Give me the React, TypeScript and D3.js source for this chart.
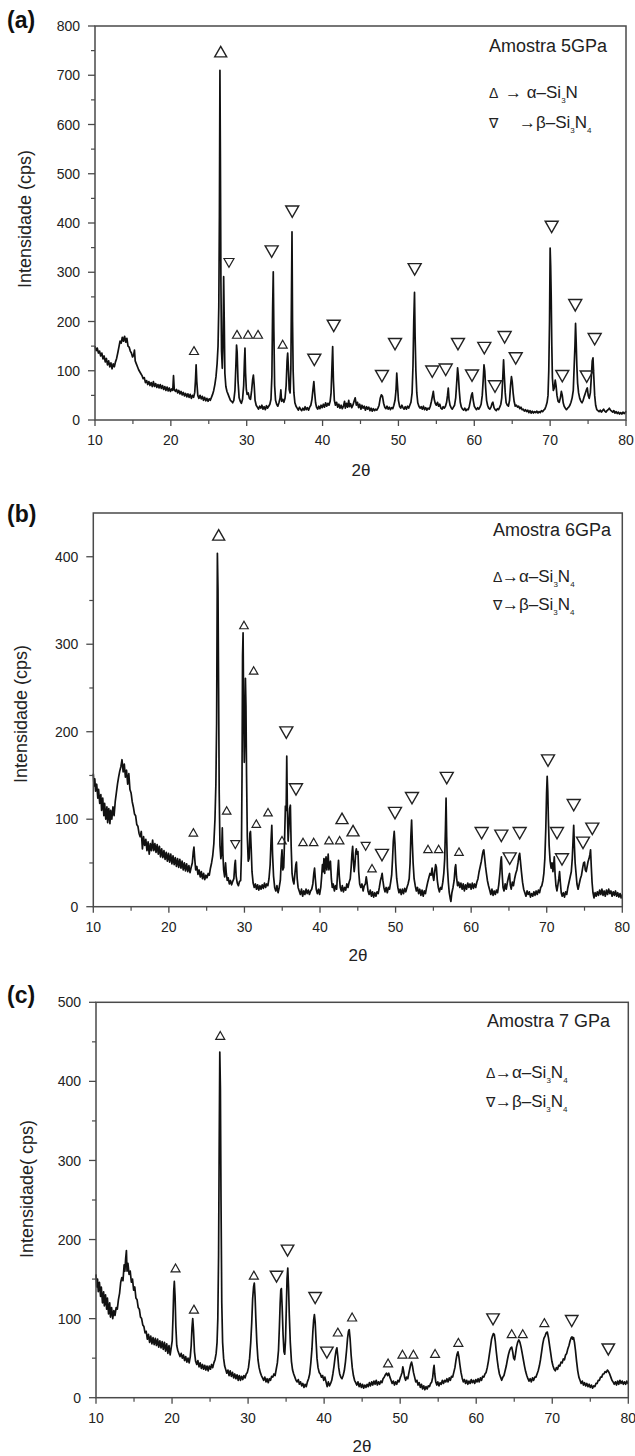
import React from "react";
import * as d3 from "d3";

type Pt = [number, number];
type Mk = [number, number, string];

const FONT = "'Liberation Sans', Arial, Helvetica, sans-serif";

// ---------- tick labels ----------
const xTicks = [10, 20, 30, 40, 50, 60, 70, 80];
const yTicksA = [0, 100, 200, 300, 400, 500, 600, 700, 800];
const yTicksB = [0, 100, 200, 300, 400];
const yTicksC = [0, 100, 200, 300, 400, 500];

// ---------- texts ----------
const panelLabels = ["(a)", "(b)", "(c)"];
const sampleTitles = ["Amostra 5GPa", "Amostra 6GPa", "Amostra 7 GPa"];
const yTitles = ["Intensidade (cps)", "Intensidade (cps)", "Intensidade( cps)"];
const xTitle = "2θ";
// [symbol, text, sub1, text2, sub2]
const legendA = [["Δ", "→ α–Si", "3", "N", ""], ["∇", "→β–Si", "3", "N", "4"]];
const legendB = [["Δ", "→α–Si", "3", "N", "4"], ["∇", "→β–Si", "3", "N", "4"]];
const legendC = [["Δ", "→α–Si", "3", "N", "4"], ["∇", "→β–Si", "3", "N", "4"]];

// ---------- spectra (2θ, intensity cps) ----------
const spectrumA: Pt[] = [[10,150],[10.15,141],[10.3,146],[10.45,136],[10.6,140],[10.75,130],[10.9,136],[11.05,124],[11.2,130],[11.35,118],[11.5,125],[11.65,112],[11.8,120],[11.95,108],[12.1,116],[12.25,104],[12.4,114],[12.55,108],[12.7,118],[12.85,125],[13.0,136],[13.15,148],[13.3,160],[13.45,156],[13.6,168],[13.75,160],[13.9,170],[14.05,158],[14.2,166],[14.35,150],[14.5,148],[14.65,140],[14.8,136],[14.95,128],[15.1,132],[15.2,142],[15.3,120],[15.45,114],[15.6,108],[15.75,102],[15.9,98],[16.05,94],[16.2,90],[16.35,84],[16.5,86],[16.65,76],[16.8,80],[16.95,72],[17.1,78],[17.25,70],[17.4,76],[17.55,68],[17.7,78],[17.85,68],[18.0,74],[18.15,66],[18.3,72],[18.45,65],[18.6,72],[18.75,64],[18.9,70],[19.05,62],[19.2,68],[19.35,60],[19.5,67],[19.65,59],[19.8,65],[19.95,58],[20.1,63],[20.25,60],[20.35,90],[20.45,62],[20.6,58],[20.75,62],[20.9,55],[21.05,60],[21.2,53],[21.35,58],[21.5,51],[21.65,56],[21.8,49],[21.95,54],[22.1,47],[22.25,53],[22.4,46],[22.55,52],[22.7,44],[22.85,50],[23.0,46],[23.15,56],[23.25,82],[23.33,112],[23.42,78],[23.55,50],[23.7,44],[23.85,50],[24.0,43],[24.15,48],[24.3,40],[24.45,46],[24.6,39],[24.75,44],[24.9,38],[25.05,43],[25.2,40],[25.35,46],[25.5,52],[25.65,60],[25.8,72],[25.95,88],[26.1,115],[26.22,150],[26.32,230],[26.4,413],[26.47,710],[26.53,535],[26.6,280],[26.68,140],[26.78,105],[26.88,160],[26.96,291],[27.04,200],[27.12,95],[27.25,68],[27.4,58],[27.55,52],[27.7,46],[27.85,40],[28.0,38],[28.15,35],[28.3,40],[28.45,60],[28.57,110],[28.66,152],[28.74,138],[28.85,80],[29.0,45],[29.15,38],[29.3,34],[29.45,42],[29.6,70],[29.7,120],[29.77,146],[29.85,95],[29.95,62],[30.05,52],[30.2,55],[30.35,44],[30.5,42],[30.65,60],[30.78,82],[30.88,91],[30.98,72],[31.1,40],[31.25,30],[31.4,26],[31.55,22],[31.7,28],[31.85,24],[32.0,30],[32.15,22],[32.3,27],[32.45,21],[32.6,29],[32.75,24],[32.9,28],[33.05,32],[33.2,42],[33.32,90],[33.42,230],[33.5,301],[33.58,180],[33.68,70],[33.8,40],[33.95,32],[34.1,28],[34.25,35],[34.4,45],[34.5,61],[34.6,38],[34.75,42],[34.9,36],[35.05,44],[35.2,70],[35.32,120],[35.4,136],[35.5,105],[35.6,62],[35.72,55],[35.82,105],[35.9,250],[35.97,382],[36.04,200],[36.12,100],[36.22,55],[36.35,35],[36.5,28],[36.65,24],[36.8,20],[36.95,26],[37.1,22],[37.25,19],[37.4,24],[37.55,20],[37.7,27],[37.85,21],[38.0,25],[38.15,20],[38.3,26],[38.45,30],[38.6,42],[38.72,60],[38.85,78],[38.96,55],[39.08,35],[39.2,26],[39.35,22],[39.5,28],[39.65,23],[39.8,30],[39.95,25],[40.1,32],[40.25,26],[40.4,35],[40.55,28],[40.7,34],[40.85,30],[41.0,38],[41.12,55],[41.22,100],[41.33,149],[41.43,80],[41.55,40],[41.7,30],[41.85,36],[42.0,26],[42.15,32],[42.3,24],[42.45,30],[42.6,23],[42.75,28],[42.9,38],[43.0,24],[43.15,34],[43.3,26],[43.45,40],[43.55,27],[43.7,33],[43.85,25],[44.0,30],[44.15,38],[44.3,45],[44.45,30],[44.6,36],[44.75,25],[44.9,32],[45.05,22],[45.2,30],[45.35,24],[45.5,28],[45.65,20],[45.8,27],[45.95,22],[46.1,26],[46.25,19],[46.4,24],[46.55,18],[46.7,23],[46.85,19],[47.0,22],[47.15,20],[47.3,24],[47.45,30],[47.6,44],[47.75,51],[47.9,48],[48.05,34],[48.2,26],[48.35,23],[48.5,28],[48.65,22],[48.8,26],[48.95,21],[49.1,25],[49.25,23],[49.4,30],[49.55,40],[49.68,60],[49.78,95],[49.88,70],[50.0,40],[50.15,28],[50.3,24],[50.45,30],[50.6,25],[50.75,22],[50.9,27],[51.05,22],[51.2,28],[51.35,24],[51.5,30],[51.65,36],[51.8,55],[51.92,110],[52.02,200],[52.12,259],[52.2,170],[52.3,100],[52.42,55],[52.55,35],[52.7,28],[52.85,24],[53.0,27],[53.15,22],[53.3,28],[53.45,21],[53.6,25],[53.75,20],[53.9,24],[54.05,22],[54.2,28],[54.35,38],[54.5,50],[54.6,58],[54.72,42],[54.85,34],[55.0,30],[55.15,36],[55.3,28],[55.45,32],[55.6,24],[55.75,22],[55.9,27],[56.05,24],[56.2,28],[56.35,36],[56.47,50],[56.57,65],[56.67,42],[56.8,30],[56.95,25],[57.1,22],[57.25,26],[57.4,30],[57.55,45],[57.68,75],[57.8,106],[57.9,90],[58.02,60],[58.15,36],[58.3,26],[58.45,22],[58.6,20],[58.75,24],[58.9,19],[59.05,22],[59.2,21],[59.35,28],[59.5,40],[59.62,50],[59.74,55],[59.86,40],[60.0,28],[60.15,24],[60.3,21],[60.45,25],[60.6,22],[60.75,26],[60.9,32],[61.05,50],[61.17,80],[61.28,112],[61.38,100],[61.5,65],[61.62,40],[61.75,30],[61.9,24],[62.05,22],[62.2,26],[62.35,34],[62.45,36],[62.6,25],[62.75,21],[62.9,19],[63.05,23],[63.2,21],[63.35,26],[63.5,32],[63.62,45],[63.74,80],[63.86,122],[63.96,90],[64.08,55],[64.2,35],[64.35,30],[64.5,28],[64.65,40],[64.78,70],[64.9,88],[65.0,78],[65.12,55],[65.25,38],[65.4,28],[65.55,30],[65.7,26],[65.85,28],[66.0,23],[66.15,26],[66.3,21],[66.45,22],[66.6,18],[66.75,21],[66.9,17],[67.05,20],[67.2,15],[67.35,19],[67.5,14],[67.65,18],[67.8,14],[67.95,17],[68.1,15],[68.25,18],[68.4,14],[68.55,17],[68.7,15],[68.85,19],[69.0,17],[69.15,20],[69.3,22],[69.45,28],[69.6,36],[69.72,50],[69.82,100],[69.92,200],[70.0,349],[70.07,312],[70.14,250],[70.22,150],[70.3,85],[70.42,60],[70.55,65],[70.67,81],[70.78,70],[70.9,50],[71.05,38],[71.2,36],[71.35,45],[71.48,58],[71.6,50],[71.72,35],[71.85,28],[72.0,24],[72.15,21],[72.3,24],[72.45,26],[72.6,30],[72.75,36],[72.9,45],[73.05,60],[73.17,110],[73.27,150],[73.35,196],[73.43,160],[73.52,110],[73.62,75],[73.75,55],[73.9,44],[74.05,38],[74.2,35],[74.35,40],[74.5,48],[74.65,55],[74.8,62],[74.9,65],[75.02,50],[75.15,44],[75.3,55],[75.42,85],[75.55,120],[75.65,126],[75.75,90],[75.87,50],[76.0,30],[76.15,21],[76.3,19],[76.45,17],[76.6,20],[76.75,16],[76.9,19],[77.05,22],[77.2,18],[77.35,16],[77.5,19],[77.65,21],[77.8,24],[77.95,20],[78.1,18],[78.25,16],[78.4,19],[78.55,14],[78.7,17],[78.85,13],[79.0,16],[79.15,12],[79.3,15],[79.45,12],[79.6,16],[79.75,13],[79.9,15],[80,18]];

const spectrumB: Pt[] = [[10,152],[10.1,138],[10.2,146],[10.3,132],[10.45,140],[10.6,124],[10.7,134],[10.85,118],[11.0,128],[11.1,110],[11.25,124],[11.4,104],[11.5,118],[11.65,100],[11.8,114],[11.9,96],[12.05,112],[12.2,95],[12.3,110],[12.45,100],[12.6,114],[12.75,104],[12.9,120],[13.05,130],[13.2,140],[13.35,148],[13.5,155],[13.65,160],[13.8,168],[13.95,154],[14.1,163],[14.25,148],[14.4,156],[14.55,140],[14.7,152],[14.85,134],[15.0,130],[15.15,120],[15.3,114],[15.45,106],[15.6,104],[15.75,94],[15.9,92],[16.05,84],[16.2,80],[16.35,86],[16.5,66],[16.65,80],[16.8,70],[16.95,77],[17.1,64],[17.25,74],[17.4,60],[17.55,72],[17.7,64],[17.85,76],[18.0,64],[18.15,72],[18.3,62],[18.45,71],[18.6,60],[18.75,69],[18.9,57],[19.05,66],[19.2,56],[19.35,64],[19.5,54],[19.65,62],[19.8,52],[19.95,61],[20.1,51],[20.25,60],[20.4,49],[20.55,58],[20.7,48],[20.85,56],[21.0,46],[21.15,55],[21.3,45],[21.45,54],[21.6,44],[21.75,52],[21.9,42],[22.05,50],[22.2,41],[22.35,49],[22.5,40],[22.65,47],[22.8,39],[22.95,45],[23.1,50],[23.22,62],[23.32,68],[23.42,55],[23.55,42],[23.7,46],[23.85,37],[24.0,42],[24.15,34],[24.3,40],[24.45,32],[24.6,38],[24.75,31],[24.9,36],[25.05,33],[25.2,38],[25.35,36],[25.5,44],[25.65,50],[25.8,58],[25.95,72],[26.1,100],[26.22,140],[26.32,210],[26.42,404],[26.5,363],[26.58,250],[26.66,130],[26.76,70],[26.88,55],[26.98,62],[27.07,90],[27.15,60],[27.25,42],[27.38,34],[27.5,50],[27.6,38],[27.72,30],[27.85,33],[28.0,26],[28.15,30],[28.3,25],[28.45,29],[28.6,32],[28.72,48],[28.8,53],[28.9,35],[29.05,27],[29.2,24],[29.35,29],[29.5,30],[29.6,60],[29.68,150],[29.75,287],[29.82,313],[29.9,220],[29.98,165],[30.06,200],[30.13,261],[30.2,230],[30.28,150],[30.38,80],[30.5,52],[30.62,55],[30.72,84],[30.8,86],[30.9,65],[31.0,40],[31.15,27],[31.3,22],[31.45,26],[31.6,20],[31.75,25],[31.9,19],[32.05,24],[32.2,20],[32.35,25],[32.5,21],[32.65,27],[32.8,22],[32.95,26],[33.1,24],[33.25,32],[33.4,48],[33.52,75],[33.62,93],[33.72,60],[33.85,35],[34.0,22],[34.15,18],[34.3,24],[34.45,16],[34.6,22],[34.75,30],[34.88,55],[34.97,65],[35.07,42],[35.2,45],[35.32,80],[35.42,115],[35.52,110],[35.6,172],[35.68,110],[35.78,75],[35.88,90],[35.98,112],[36.08,116],[36.18,70],[36.3,38],[36.42,30],[36.55,26],[36.68,38],[36.8,48],[36.88,51],[36.98,32],[37.1,22],[37.25,18],[37.4,14],[37.55,20],[37.7,12],[37.85,18],[38.0,14],[38.15,20],[38.3,15],[38.45,19],[38.6,14],[38.75,18],[38.9,20],[39.05,26],[39.18,38],[39.28,44],[39.38,32],[39.5,20],[39.65,15],[39.8,20],[39.95,14],[40.1,22],[40.22,35],[40.32,48],[40.42,40],[40.52,55],[40.62,38],[40.72,52],[40.8,57],[40.9,42],[41.0,50],[41.08,60],[41.18,42],[41.28,48],[41.38,52],[41.5,32],[41.62,22],[41.75,26],[41.9,18],[42.05,24],[42.2,20],[42.32,38],[42.45,53],[42.55,35],[42.68,22],[42.82,18],[42.95,24],[43.1,17],[43.25,22],[43.4,19],[43.55,26],[43.7,22],[43.85,28],[44.0,32],[44.12,45],[44.22,60],[44.32,69],[44.42,52],[44.52,40],[44.62,48],[44.72,62],[44.8,66],[44.9,60],[45.02,63],[45.12,40],[45.25,26],[45.4,22],[45.55,26],[45.7,18],[45.85,24],[46.0,26],[46.12,34],[46.22,28],[46.35,18],[46.5,14],[46.65,19],[46.8,12],[46.95,17],[47.1,11],[47.25,16],[47.4,12],[47.55,17],[47.7,15],[47.85,22],[48.0,30],[48.12,34],[48.22,38],[48.32,30],[48.45,22],[48.6,17],[48.75,22],[48.9,16],[49.05,22],[49.2,20],[49.35,28],[49.48,36],[49.6,55],[49.7,75],[49.82,86],[49.92,72],[50.02,50],[50.15,32],[50.3,22],[50.45,16],[50.6,20],[50.75,14],[50.9,20],[51.05,15],[51.2,21],[51.35,17],[51.5,22],[51.65,26],[51.8,32],[51.92,50],[52.02,80],[52.12,99],[52.22,72],[52.32,50],[52.45,32],[52.6,24],[52.75,18],[52.9,22],[53.05,15],[53.2,20],[53.35,13],[53.5,19],[53.65,12],[53.8,18],[53.95,15],[54.1,22],[54.25,28],[54.4,33],[54.55,38],[54.7,36],[54.83,44],[54.95,35],[55.05,30],[55.18,40],[55.3,48],[55.4,45],[55.52,30],[55.65,22],[55.8,17],[55.95,22],[56.1,20],[56.25,28],[56.38,38],[56.5,55],[56.6,90],[56.68,124],[56.76,80],[56.86,45],[56.98,28],[57.1,16],[57.22,10],[57.32,6],[57.45,16],[57.6,22],[57.75,30],[57.88,45],[57.96,48],[58.06,34],[58.2,24],[58.35,28],[58.5,22],[58.65,27],[58.8,20],[58.95,26],[59.1,18],[59.25,25],[59.4,20],[59.55,27],[59.7,22],[59.85,26],[60.0,20],[60.15,27],[60.3,21],[60.45,26],[60.6,22],[60.75,28],[60.9,32],[61.05,40],[61.2,46],[61.35,52],[61.5,60],[61.6,64],[61.68,65],[61.78,56],[61.9,46],[62.02,38],[62.15,30],[62.3,24],[62.45,19],[62.6,14],[62.75,20],[62.9,13],[63.05,18],[63.2,14],[63.35,19],[63.5,16],[63.65,25],[63.8,38],[63.92,52],[64.0,57],[64.1,38],[64.22,22],[64.35,18],[64.5,26],[64.65,20],[64.8,28],[64.95,34],[65.08,38],[65.18,25],[65.3,20],[65.45,28],[65.6,24],[65.75,32],[65.9,38],[66.05,42],[66.2,50],[66.32,58],[66.42,61],[66.52,52],[66.65,40],[66.8,28],[66.95,20],[67.1,16],[67.25,12],[67.4,18],[67.55,14],[67.7,17],[67.85,11],[68.0,15],[68.15,12],[68.3,17],[68.45,13],[68.6,18],[68.75,14],[68.9,19],[69.05,16],[69.2,22],[69.35,24],[69.5,30],[69.62,38],[69.75,55],[69.88,90],[69.98,130],[70.06,149],[70.14,132],[70.22,100],[70.32,70],[70.45,52],[70.58,44],[70.7,50],[70.82,40],[70.92,48],[71.0,57],[71.1,38],[71.22,24],[71.35,18],[71.48,25],[71.6,32],[71.7,40],[71.8,28],[71.92,16],[72.05,12],[72.2,16],[72.35,11],[72.5,17],[72.65,14],[72.8,22],[72.95,28],[73.1,34],[73.25,40],[73.38,55],[73.48,75],[73.57,93],[73.66,70],[73.76,50],[73.88,38],[74.0,26],[74.15,20],[74.3,26],[74.45,32],[74.6,36],[74.75,44],[74.88,50],[75.0,51],[75.1,42],[75.22,40],[75.35,46],[75.48,52],[75.6,55],[75.72,60],[75.8,65],[75.9,45],[76.0,28],[76.12,16],[76.25,10],[76.4,16],[76.55,12],[76.7,17],[76.85,13],[77.0,19],[77.15,14],[77.3,20],[77.45,13],[77.6,18],[77.75,12],[77.9,19],[78.05,14],[78.2,20],[78.35,15],[78.5,18],[78.65,12],[78.8,17],[78.95,13],[79.1,18],[79.25,12],[79.4,16],[79.55,11],[79.7,15],[79.85,10],[80,14]];

const spectrumC: Pt[] = [[10,156],[10.1,140],[10.2,150],[10.3,134],[10.45,146],[10.6,128],[10.7,140],[10.85,120],[11.0,134],[11.1,116],[11.25,130],[11.4,112],[11.5,126],[11.65,106],[11.8,120],[11.9,102],[12.05,114],[12.2,100],[12.35,110],[12.5,104],[12.65,114],[12.8,112],[12.95,124],[13.1,132],[13.25,146],[13.4,152],[13.55,148],[13.7,168],[13.8,160],[13.9,176],[14.0,186],[14.08,160],[14.2,170],[14.35,156],[14.5,160],[14.65,146],[14.8,150],[14.95,136],[15.1,140],[15.25,126],[15.4,124],[15.55,114],[15.7,112],[15.85,102],[16.0,100],[16.15,92],[16.3,90],[16.45,82],[16.6,84],[16.75,74],[16.9,80],[17.05,70],[17.2,78],[17.35,68],[17.5,76],[17.65,67],[17.8,75],[17.95,66],[18.1,74],[18.25,64],[18.4,72],[18.55,63],[18.7,71],[18.85,61],[19.0,70],[19.15,59],[19.3,68],[19.45,56],[19.6,66],[19.75,54],[19.9,64],[20.02,72],[20.12,100],[20.22,135],[20.3,147],[20.4,128],[20.5,90],[20.62,66],[20.75,60],[20.9,56],[21.05,52],[21.2,56],[21.35,50],[21.5,54],[21.65,47],[21.8,52],[21.95,45],[22.1,50],[22.25,44],[22.4,52],[22.52,66],[22.62,88],[22.72,100],[22.82,86],[22.95,58],[23.1,46],[23.25,42],[23.4,47],[23.55,39],[23.7,44],[23.85,37],[24.0,42],[24.15,36],[24.3,41],[24.45,35],[24.6,40],[24.75,34],[24.9,40],[25.05,36],[25.2,42],[25.35,38],[25.5,44],[25.65,48],[25.8,56],[25.92,70],[26.02,100],[26.12,180],[26.2,317],[26.28,437],[26.36,391],[26.44,250],[26.54,120],[26.65,70],[26.78,50],[26.92,40],[27.05,36],[27.2,31],[27.35,35],[27.5,28],[27.65,34],[27.8,27],[27.95,32],[28.1,25],[28.25,30],[28.4,24],[28.55,29],[28.7,22],[28.85,28],[29.0,22],[29.15,27],[29.3,23],[29.45,28],[29.6,25],[29.75,30],[29.9,32],[30.05,38],[30.2,50],[30.35,70],[30.48,95],[30.6,125],[30.72,140],[30.82,145],[30.92,128],[31.02,100],[31.15,70],[31.3,48],[31.45,38],[31.6,32],[31.75,28],[31.9,25],[32.05,22],[32.2,26],[32.35,20],[32.5,24],[32.65,19],[32.8,24],[32.95,22],[33.1,27],[33.25,26],[33.4,30],[33.55,28],[33.7,36],[33.85,44],[34.0,60],[34.12,90],[34.22,120],[34.3,136],[34.38,138],[34.48,115],[34.6,80],[34.72,58],[34.82,55],[34.92,72],[35.02,110],[35.12,150],[35.22,164],[35.32,140],[35.42,105],[35.55,70],[35.7,46],[35.85,35],[36.0,30],[36.15,26],[36.3,22],[36.45,20],[36.6,23],[36.75,17],[36.9,20],[37.05,15],[37.2,18],[37.35,13],[37.5,17],[37.65,14],[37.8,20],[37.95,24],[38.1,30],[38.25,44],[38.4,62],[38.52,84],[38.62,98],[38.72,105],[38.82,96],[38.94,72],[39.06,50],[39.2,38],[39.35,32],[39.5,30],[39.65,26],[39.8,28],[39.95,22],[40.1,26],[40.25,20],[40.4,14],[40.55,20],[40.7,15],[40.85,18],[41.0,22],[41.15,30],[41.3,40],[41.45,52],[41.58,60],[41.68,63],[41.8,52],[41.92,38],[42.05,30],[42.2,26],[42.35,24],[42.5,28],[42.65,34],[42.8,45],[42.95,60],[43.08,75],[43.2,84],[43.3,86],[43.42,74],[43.55,54],[43.7,38],[43.85,28],[44.0,22],[44.15,19],[44.3,16],[44.45,20],[44.6,14],[44.75,18],[44.9,13],[45.05,17],[45.2,12],[45.35,16],[45.5,13],[45.65,17],[45.8,14],[45.95,19],[46.1,15],[46.25,20],[46.4,16],[46.55,21],[46.7,17],[46.85,22],[47.0,16],[47.15,20],[47.3,17],[47.45,21],[47.6,19],[47.75,24],[47.9,26],[48.05,29],[48.2,31],[48.35,28],[48.5,31],[48.65,26],[48.8,22],[48.95,18],[49.1,21],[49.25,16],[49.4,20],[49.55,17],[49.7,22],[49.85,20],[50.0,25],[50.12,28],[50.25,32],[50.35,39],[50.45,34],[50.58,26],[50.72,22],[50.85,26],[51.0,24],[51.12,30],[51.25,36],[51.38,42],[51.5,45],[51.62,40],[51.75,32],[51.9,26],[52.05,20],[52.2,22],[52.35,16],[52.5,19],[52.65,13],[52.8,17],[52.95,11],[53.1,15],[53.25,10],[53.4,14],[53.55,11],[53.7,15],[53.85,14],[54.0,18],[54.15,20],[54.28,26],[54.38,36],[54.46,41],[54.55,30],[54.68,20],[54.82,16],[54.95,20],[55.1,15],[55.25,19],[55.4,17],[55.55,22],[55.7,18],[55.85,22],[56.0,20],[56.15,24],[56.3,20],[56.45,25],[56.6,22],[56.75,27],[56.9,26],[57.05,32],[57.2,38],[57.35,48],[57.48,55],[57.6,58],[57.72,52],[57.85,42],[58.0,32],[58.15,25],[58.3,20],[58.45,23],[58.6,18],[58.75,22],[58.9,17],[59.05,21],[59.2,18],[59.35,23],[59.5,19],[59.65,22],[59.8,18],[59.95,23],[60.1,20],[60.25,24],[60.4,20],[60.55,25],[60.7,22],[60.85,27],[61.0,26],[61.15,30],[61.3,32],[61.45,38],[61.6,46],[61.75,56],[61.9,66],[62.02,74],[62.14,78],[62.26,81],[62.38,80],[62.5,72],[62.62,60],[62.76,48],[62.9,38],[63.05,30],[63.2,26],[63.35,22],[63.5,26],[63.65,28],[63.8,34],[63.95,40],[64.1,48],[64.25,55],[64.4,60],[64.55,63],[64.67,64],[64.8,58],[64.92,50],[65.05,48],[65.18,56],[65.3,64],[65.45,70],[65.6,73],[65.75,70],[65.9,64],[66.05,56],[66.2,48],[66.35,40],[66.5,33],[66.65,28],[66.8,24],[66.95,21],[67.1,24],[67.25,20],[67.4,25],[67.55,22],[67.7,26],[67.85,26],[68.0,30],[68.15,34],[68.3,40],[68.45,48],[68.6,58],[68.75,68],[68.9,75],[69.05,78],[69.2,82],[69.35,83],[69.5,76],[69.65,66],[69.8,56],[69.95,46],[70.1,40],[70.25,36],[70.4,34],[70.55,38],[70.7,36],[70.85,41],[71.0,40],[71.15,45],[71.3,44],[71.45,49],[71.6,48],[71.75,54],[71.9,56],[72.05,62],[72.2,66],[72.35,72],[72.5,76],[72.6,77],[72.7,74],[72.8,76],[72.92,70],[73.05,60],[73.2,46],[73.35,34],[73.5,26],[73.65,22],[73.8,18],[73.95,21],[74.1,16],[74.25,19],[74.4,15],[74.55,18],[74.7,14],[74.85,17],[75.0,13],[75.15,16],[75.3,12],[75.45,15],[75.6,14],[75.75,18],[75.9,18],[76.05,22],[76.2,22],[76.35,26],[76.5,26],[76.65,30],[76.8,30],[76.95,33],[77.1,32],[77.25,35],[77.4,33],[77.55,30],[77.7,26],[77.85,22],[78.0,20],[78.15,17],[78.3,20],[78.45,16],[78.6,21],[78.75,17],[78.9,22],[79.05,18],[79.2,21],[79.35,17],[79.5,20],[79.65,17],[79.8,21],[79.95,18],[80,20]];

// ---------- phase markers: [2θ, intensity at symbol centre, kind] ----------
// kind: d = small Δ (α), D = large Δ, n = small ∇ (β), N = large ∇
const markersA: Mk[] = [[26.57,748,"D"],[27.66,319,"n"],[23.05,141,"d"],[28.72,174,"d"],[30.17,174,"d"],[31.49,174,"d"],[33.29,342,"N"],[36.0,423,"N"],[34.74,154,"d"],[38.91,122,"N"],[41.47,191,"N"],[47.83,89,"N"],[49.55,154,"N"],[52.14,306,"N"],[54.46,98,"N"],[56.23,102,"N"],[57.85,154,"N"],[59.7,90,"N"],[61.32,146,"N"],[62.73,68,"N"],[64.0,168,"N"],[65.46,125,"N"],[70.2,392,"N"],[71.6,89,"N"],[73.31,233,"N"],[74.82,88,"N"],[75.87,164,"N"]];
const markersB: Mk[] = [[26.59,425,"D"],[29.94,322,"d"],[31.22,270,"d"],[35.54,199,"N"],[36.82,134,"N"],[23.24,85,"d"],[27.65,110,"d"],[28.79,71,"n"],[31.57,95,"d"],[33.12,108,"d"],[34.97,76,"d"],[37.75,74,"d"],[39.16,74,"d"],[41.19,76,"d"],[42.6,76,"d"],[42.91,101,"D"],[44.37,87,"D"],[46.04,69,"n"],[46.88,44,"d"],[48.2,59,"N"],[49.92,107,"N"],[52.17,124,"N"],[54.29,66,"d"],[55.7,66,"d"],[56.77,147,"N"],[58.39,63,"d"],[61.39,84,"N"],[63.99,81,"N"],[65.1,55,"N"],[66.42,84,"N"],[70.17,167,"N"],[71.36,84,"N"],[72.02,54,"N"],[73.57,116,"N"],[74.8,73,"N"],[76.03,89,"N"]];
const markersC: Mk[] = [[26.34,458,"d"],[20.46,164,"d"],[22.88,112,"d"],[30.76,155,"d"],[33.74,153,"N"],[35.19,186,"N"],[38.82,126,"N"],[40.36,57,"N"],[41.8,83,"d"],[43.68,102,"d"],[48.41,44,"d"],[50.3,55,"d"],[51.74,55,"d"],[54.59,56,"d"],[57.65,70,"d"],[62.21,99,"N"],[64.67,81,"d"],[66.12,81,"d"],[68.96,95,"d"],[72.56,97,"N"],[77.37,61,"N"]];

// ---------- layout (style, not data) ----------
const panels = [
  { key: "a", data: spectrumA, marks: markersA, yTicks: yTicksA, yMax: 800, left: 95, right: 626, top: 26, bottom: 420,
    label: panelLabels[0], labelY: 28, title: sampleTitles[0], titleX: 489, titleY: 52, yTitle: yTitles[0], yTitleX: 31, yTitleY: 219,
    xTitleX: 361, xTitleY: 476, legend: legendA, legSymX: 489, legTxtX: [505, 519], legY: [98, 128],
    sizes: { d: 9, D: 12, n: 10, N: 13 } as Record<string, number> },
  { key: "b", data: spectrumB, marks: markersB, yTicks: yTicksB, yMax: 450, left: 93.3, right: 622.3, top: 513, bottom: 906.7,
    label: panelLabels[1], labelY: 522, title: sampleTitles[1], titleX: 493, titleY: 536, yTitle: yTitles[1], yTitleX: 26.5, yTitleY: 714,
    xTitleX: 358, xTitleY: 961, legend: legendB, legSymX: 493, legTxtX: [502, 502], legY: [582, 610],
    sizes: { d: 8.5, D: 12, n: 9, N: 13 } as Record<string, number> },
  { key: "c", data: spectrumC, marks: markersC, yTicks: yTicksC, yMax: 500, left: 96, right: 628.3, top: 1002.3, bottom: 1397.7,
    label: panelLabels[2], labelY: 1003, title: sampleTitles[2], titleX: 487, titleY: 1027, yTitle: yTitles[2], yTitleX: 33, yTitleY: 1189,
    xTitleX: 362, xTitleY: 1452, legend: legendC, legSymX: 486, legTxtX: [495, 495], legY: [1078, 1107],
    sizes: { d: 9, D: 12, n: 10, N: 12.5 } as Record<string, number> },
];

const AXIS = "#4a4a4a";
const INK = "#111";

function tri(cx: number, cy: number, w: number, up: boolean): string {
  const h = w * 0.88;
  if (up) return `M${cx},${cy - h / 2}L${cx + w / 2},${cy + h / 2}L${cx - w / 2},${cy + h / 2}Z`;
  return `M${cx - w / 2},${cy - h / 2}L${cx + w / 2},${cy - h / 2}L${cx},${cy + h / 2}Z`;
}

function Panel({ p }: { p: (typeof panels)[number] }) {
  const x = d3.scaleLinear().domain([xTicks[0], xTicks[xTicks.length - 1]]).range([p.left, p.right]);
  const y = d3.scaleLinear().domain([0, p.yMax]).range([p.bottom, p.top]);
  const line = d3.line<Pt>().x((d) => x(d[0])).y((d) => y(d[1]));
  const xMinor = xTicks.slice(1).map((t, i) => (t + xTicks[i]) / 2);
  const yStep = p.yTicks[1] - p.yTicks[0];
  const yMinor = d3.range(yStep / 2, p.yMax, yStep);

  return (
    <g>
      {/* curve */}
      <path d={line(p.data) || ""} fill="none" stroke={INK} strokeWidth={1.7} strokeLinejoin="round" />
      {/* frame */}
      <rect x={p.left} y={p.top} width={p.right - p.left} height={p.bottom - p.top} fill="none" stroke={AXIS} strokeWidth={1.5} />
      {/* x ticks */}
      {xTicks.map((t) => (
        <g key={"xt" + t}>
          <line x1={x(t)} x2={x(t)} y1={p.bottom} y2={p.bottom + 6} stroke={AXIS} strokeWidth={1.3} />
          <text x={x(t)} y={p.bottom + 25} textAnchor="middle" fontSize={14} fill="#222">{t}</text>
        </g>
      ))}
      {xMinor.map((t) => (
        <line key={"xm" + t} x1={x(t)} x2={x(t)} y1={p.bottom} y2={p.bottom + 4} stroke={AXIS} strokeWidth={1.2} />
      ))}
      {/* y ticks */}
      {p.yTicks.map((t) => (
        <g key={"yt" + t}>
          <line x1={p.left - 7} x2={p.left} y1={y(t)} y2={y(t)} stroke={AXIS} strokeWidth={1.3} />
          <text x={p.left - 15} y={y(t)} dy="0.36em" textAnchor="end" fontSize={14} fill="#222">{t}</text>
        </g>
      ))}
      {yMinor.map((t) => (
        <line key={"ym" + t} x1={p.left - 4} x2={p.left} y1={y(t)} y2={y(t)} stroke={AXIS} strokeWidth={1.2} />
      ))}
      {/* markers */}
      {p.marks.map((m, i) => {
        const up = m[2] === "d" || m[2] === "D";
        const w = p.sizes[m[2]];
        return (
          <path key={"mk" + i} d={tri(x(m[0]), y(m[1]), w, up)} fill="none" stroke="#222"
            strokeWidth={m[2] === "D" || m[2] === "N" ? 1.4 : 1.2} strokeLinejoin="miter" />
        );
      })}
      {/* panel label */}
      <text x={7} y={p.labelY} fontSize={23} fontWeight="bold" fill="#111">{p.label}</text>
      {/* axis titles */}
      <text transform={`translate(${p.yTitleX},${p.yTitleY}) rotate(-90)`} textAnchor="middle" fontSize={18} fill="#222">{p.yTitle}</text>
      <text x={p.xTitleX} y={p.xTitleY} textAnchor="middle" fontSize={17} fill="#222">{xTitle}</text>
      {/* sample title and legend */}
      <text x={p.titleX} y={p.titleY} fontSize={18} fill="#222">{p.title}</text>
      {p.legend.map((L, i) => (
        <g key={"lg" + i}>
          <text x={p.legSymX} y={p.legY[i]} fontSize={14} fill="#222">{L[0]}</text>
          <text x={p.legTxtX[i]} y={p.legY[i]} fontSize={17} fill="#222">
            <tspan>{L[1]}</tspan>
            <tspan fontSize={8} dy={5}>{L[2]}</tspan>
            <tspan fontSize={17} dy={-5}>{L[3]}</tspan>
            {L[4] ? <tspan fontSize={8} dy={5}>{L[4]}</tspan> : null}
          </text>
        </g>
      ))}
    </g>
  );
}

export default function App() {
  return (
    <svg width={635} height={1456} viewBox="0 0 635 1456" style={{ position: "absolute", left: 0, top: 0, background: "#fff" }}
      fontFamily={FONT}>
      <rect x={0} y={0} width={635} height={1456} fill="#fff" />
      {panels.map((p) => (
        <Panel key={p.key} p={p} />
      ))}
    </svg>
  );
}
